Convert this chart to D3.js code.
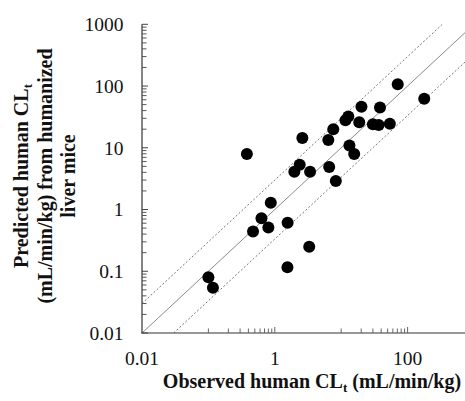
<!DOCTYPE html>
<html><head><meta charset="utf-8">
<script src="https://cdn.jsdelivr.net/npm/d3@7"></script>
<style>body{margin:0;background:#fff;}svg{display:block;}</style>
</head><body>
<script>
// Observed human CLt (mL/min/kg)
const observed = [0.10,0.117,0.47,0.63,0.80,0.87,0.38,2.6,1.97,2.37,3.4,6.6,8.3,1.56,3.3,1.55,6.4,7.6,13.3,15.7,11.6,12.8,18.7,30,36.7,54,20.2,38.4,71,178];
// Predicted human CLt from humanized liver mice
const predicted = [0.080,0.054,0.44,0.72,0.51,1.29,7.9,14.4,4.1,5.3,4.1,4.9,2.9,0.61,0.25,0.116,13.4,20,10.9,7.9,28,32,26,24,23.4,24.6,46,45,107,62];
const xLabelTicks = [0.01,1,100];
const xMinorTicks = [0.1,0.2,0.3,0.4,0.5,0.6,0.7,0.8,0.9,1,10,20,30,40,50,60,70,80,90,100];
const yLabelTicks = [0.01,0.1,1,10,100,1000];
const foldLines = [1,3,1/3];

const W=465,H=401;
const svg=d3.select("body").append("svg").attr("width",W).attr("height",H);
const x=d3.scaleLog().domain([0.01,1000]).range([142,142+5*66.4]);
const y=d3.scaleLog().domain([0.01,1000]).range([333,24.3]);
const font="'Liberation Serif','Times New Roman',serif";

// fold lines
const clipId="plotclip";
svg.append("clipPath").attr("id",clipId).append("rect").attr("x",142).attr("y",24.3).attr("width",W-142).attr("height",333-24.3);
const g=svg.append("g").attr("clip-path","url(#"+clipId+")");
foldLines.forEach(f=>{
  const x0 = f>=1?0.01:0.01/f, x1 = f>1?1000/f:1000;
  g.append("line").attr("x1",x(x0)).attr("y1",y(x0*f)).attr("x2",x(x1)).attr("y2",y(x1*f))
   .attr("stroke",f===1?"#8a8a8a":"#777").attr("stroke-width",1)
   .attr("stroke-dasharray",f===1?null:"2,2");
});

// axes lines
svg.append("line").attr("x1",142).attr("x2",142).attr("y1",24.3).attr("y2",333.5).attr("stroke","#333").attr("stroke-width",1.2);
svg.append("line").attr("x1",141.5).attr("x2",W).attr("y1",333).attr("y2",333).attr("stroke","#333").attr("stroke-width",1.2);

// y ticks
const yMinor=[];
for(let e=-2;e<3;e++){for(let k=2;k<=9;k++)yMinor.push(k*Math.pow(10,e));}
svg.selectAll(".ymin").data(yMinor).enter().append("line")
  .attr("x1",142).attr("x2",146.5).attr("y1",d=>y(d)).attr("y2",d=>y(d)).attr("stroke","#555");
svg.selectAll(".ymaj").data(yLabelTicks).enter().append("line")
  .attr("x1",142).attr("x2",148).attr("y1",d=>y(d)).attr("y2",d=>y(d)).attr("stroke","#444");
svg.selectAll(".ylab").data(yLabelTicks).enter().append("text")
  .attr("x",123.5).attr("y",d=>y(d)).attr("dy","0.35em").attr("text-anchor","end")
  .attr("font-family",font).attr("font-size",19.5).attr("fill","#111").text(d=>d3.format("~g")(d));

// x ticks
svg.selectAll(".xmin").data(xMinorTicks).enter().append("line")
  .attr("x1",d=>x(d)).attr("x2",d=>x(d)).attr("y1",333).attr("y2",d=>(d===1||d===100)?327:328.5).attr("stroke","#666");
svg.selectAll(".xlab").data(xLabelTicks).enter().append("text")
  .attr("x",d=>x(d)).attr("y",365).attr("text-anchor","middle")
  .attr("font-family",font).attr("font-size",19.5).attr("fill","#111").text(d=>d3.format("~g")(d));

// points
const pts=observed.map((o,i)=>({o,p:predicted[i]}));
svg.selectAll(".pt").data(pts).enter().append("circle")
  .attr("cx",d=>x(d.o)).attr("cy",d=>y(d.p)).attr("r",6).attr("fill","#000");

// x axis title
const xt=svg.append("text").attr("x",312).attr("y",388).attr("text-anchor","middle")
  .attr("font-family",font).attr("font-size",20).attr("font-weight","bold").attr("fill","#111");
xt.append("tspan").text("Observed human  CL");
xt.append("tspan").attr("font-size",13).attr("dy",4).text("t");
xt.append("tspan").attr("dy",-4).text(" (mL/min/kg)");

// y axis title
const yt=svg.append("g").attr("transform","translate(0,176) rotate(-90)");
const l1=yt.append("text").attr("x",0).attr("y",28).attr("text-anchor","middle")
  .attr("font-family",font).attr("font-size",20).attr("font-weight","bold").attr("fill","#111");
l1.append("tspan").text("Predicted human CL");
l1.append("tspan").attr("font-size",13).attr("dy",4).text("t");
yt.append("text").attr("x",0).attr("y",52).attr("text-anchor","middle")
  .attr("font-family",font).attr("font-size",20).attr("font-weight","bold").attr("fill","#111")
  .text("(mL/min/kg) from humanized");
yt.append("text").attr("x",0).attr("y",75).attr("text-anchor","middle")
  .attr("font-family",font).attr("font-size",20).attr("font-weight","bold").attr("fill","#111")
  .text("liver mice");
</script>
</body></html>
